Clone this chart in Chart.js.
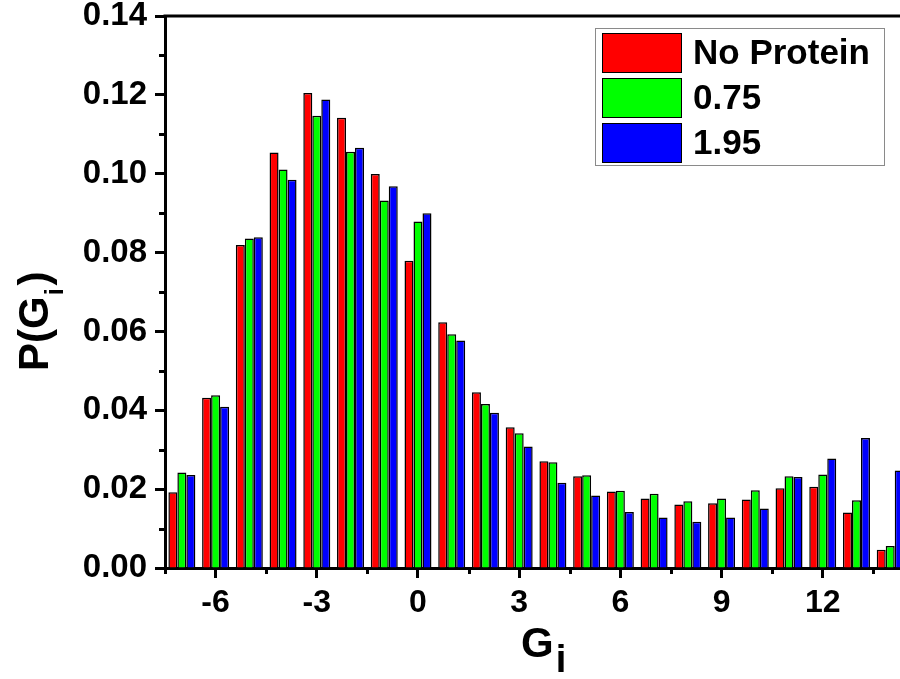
<!DOCTYPE html>
<html>
<head>
<meta charset="utf-8">
<script src="https://cdn.jsdelivr.net/npm/chart.js@4.4.1/dist/chart.umd.min.js"></script>
<style>
  html, body { margin: 0; padding: 0; background: #fff; }
  #wrap { width: 900px; height: 679px; }
</style>
</head>
<body>
<div id="wrap"><canvas id="c" width="900" height="679"></canvas></div>
<script>
// ---- data ----
const categories = [-7, -6, -5, -4, -3, -2, -1, 0, 1, 2, 3, 4, 5, 6, 7, 8, 9, 10, 11, 12, 13, 14];
const seriesNames = ['No Protein', '0.75', '1.95'];
const noProtein = [0.0192, 0.0432, 0.0819, 0.1054, 0.1205, 0.1142, 0.0999, 0.0779, 0.0623, 0.0446, 0.0357, 0.0271, 0.0233, 0.0194, 0.0176, 0.0161, 0.0164, 0.0174, 0.0202, 0.0206, 0.0141, 0.0046];
const conc075   = [0.0242, 0.0438, 0.0836, 0.1011, 0.1147, 0.1056, 0.0932, 0.0879, 0.0593, 0.0416, 0.0342, 0.0268, 0.0235, 0.0196, 0.0188, 0.0169, 0.0176, 0.0197, 0.0233, 0.0237, 0.0172, 0.0056];
const conc195   = [0.0236, 0.0409, 0.0839, 0.0985, 0.1188, 0.1066, 0.0968, 0.0900, 0.0577, 0.0394, 0.0308, 0.0216, 0.0184, 0.0142, 0.0128, 0.0117, 0.0128, 0.0151, 0.0231, 0.0278, 0.0330, 0.0247];
const xMajorTicks = [-6, -3, 0, 3, 6, 9, 12];
const xMinorTicks = [-7.5, -4.5, -1.5, 1.5, 4.5, 7.5, 10.5, 13.5];
const yMajorTicks = [0, 0.02, 0.04, 0.06, 0.08, 0.10, 0.12, 0.14];
const yMinorTicks = [0.01, 0.03, 0.05, 0.07, 0.09, 0.11, 0.13];
const xTitle = ['G', 'i'];
const yTitle = ['P(G', 'i', ')'];

const colors = ['#ff0000', '#00ff00', '#0000ff'];
const FONT = "'Liberation Sans', Arial, sans-serif";

function toPoints(vals) { return categories.map((c, i) => ({ x: c, y: vals[i] })); }
const seriesValues = [noProtein, conc075, conc195];

const isIn = (arr, v) => arr.some(t => Math.abs(t - v) < 1e-9);

const decor = {
  id: 'decor',
  afterDraw(chart) {
    const ctx = chart.ctx;
    const ca = chart.chartArea;
    const xs = chart.scales.x, ys = chart.scales.y;
    ctx.save();
    // top frame line
    ctx.strokeStyle = '#000';
    ctx.lineWidth = 3;
    ctx.beginPath();
    ctx.moveTo(ca.left - 1.5, ca.top);
    ctx.lineTo(ca.right, ca.top);
    ctx.stroke();
    // minor ticks
    ctx.lineWidth = 3;
    xMinorTicks.forEach(v => {
      const px = Math.round(xs.getPixelForValue(v)) + 0.5;
      ctx.beginPath(); ctx.moveTo(px, ca.bottom); ctx.lineTo(px, ca.bottom + 6); ctx.stroke();
    });
    yMinorTicks.forEach(v => {
      const py = Math.round(ys.getPixelForValue(v)) + 0.5;
      ctx.beginPath(); ctx.moveTo(ca.left, py); ctx.lineTo(ca.left - 6, py); ctx.stroke();
    });
    // x title
    ctx.fillStyle = '#000';
    ctx.textBaseline = 'alphabetic';
    ctx.textAlign = 'left';
    ctx.font = 'bold 42px ' + FONT;
    ctx.fillText(xTitle[0], 521, 657);
    const gw = ctx.measureText(xTitle[0]).width;
    ctx.font = 'bold 38px ' + FONT;
    ctx.fillText(xTitle[1], 521 + gw + 2, 672);
    // y title
    ctx.save();
    ctx.translate(48, 371);
    ctx.rotate(-Math.PI / 2);
    ctx.font = 'bold 42px ' + FONT;
    ctx.fillText(yTitle[0], 0, 0);
    let w = ctx.measureText(yTitle[0]).width;
    ctx.font = 'bold 25px ' + FONT;
    ctx.fillText(yTitle[1], w + 1, 15);
    w += ctx.measureText(yTitle[1]).width + 4;
    ctx.font = 'bold 42px ' + FONT;
    ctx.fillText(yTitle[2], w, 0);
    ctx.restore();
    // legend
    ctx.lineWidth = 1;
    ctx.strokeStyle = '#8a8a8a';
    ctx.fillStyle = '#fff';
    ctx.fillRect(595.5, 28.5, 289, 137);
    ctx.strokeRect(595.5, 28.5, 289, 137);
    const rowsY = [33, 78, 123];
    const baseY = [64, 109, 154];
    chart.data.datasets.forEach((ds, i) => {
      ctx.fillStyle = ds.backgroundColor;
      ctx.fillRect(602.5, rowsY[i] + 0.5, 79, 39);
      ctx.strokeStyle = '#000';
      ctx.lineWidth = 1;
      ctx.strokeRect(602.5, rowsY[i] + 0.5, 79, 39);
      ctx.fillStyle = '#000';
      ctx.font = 'bold 35px ' + FONT;
      ctx.fillText(ds.label, 693, baseY[i]);
    });
    ctx.restore();
  }
};

function zeroPad(scale) {
  scale.paddingTop = 0; scale.paddingBottom = 0;
  scale.paddingLeft = 0; scale.paddingRight = 0;
}

new Chart(document.getElementById('c'), {
  type: 'bar',
  data: {
    datasets: seriesNames.map((n, i) => ({
      label: n,
      data: toPoints(seriesValues[i]),
      backgroundColor: colors[i],
      borderColor: '#000',
      borderWidth: 1.5,
      borderSkipped: 'start',
      categoryPercentage: 0.8,
      barPercentage: 1.0
    }))
  },
  options: {
    responsive: false,
    animation: false,
    layout: { padding: { top: 16, left: 0, right: 0, bottom: 0 } },
    plugins: { legend: { display: false }, tooltip: { enabled: false } },
    scales: {
      x: {
        type: 'linear',
        offset: false,
        min: -7.5,
        max: 14.29,
        z: 1,
        afterBuildTicks(scale) {
          scale.ticks = xMajorTicks.concat(xMinorTicks).sort((a, b) => a - b).map(v => ({ value: v }));
        },
        afterFit(scale) { scale.height = 111; zeroPad(scale); },
        ticks: {
          autoSkip: false,
          maxRotation: 0,
          padding: 6,
          color: '#000',
          font: { family: FONT, size: 32, weight: 'bold' },
          callback: v => isIn(xMajorTicks, v) ? String(v) : ''
        },
        grid: {
          display: true,
          offset: false,
          drawOnChartArea: false,
          drawTicks: true,
          tickLength: 10,
          tickWidth: 3,
          tickColor: c => (c.tick && isIn(xMajorTicks, c.tick.value)) ? '#000' : 'rgba(0,0,0,0)'
        },
        border: { display: true, width: 3, color: '#000' }
      },
      y: {
        type: 'linear',
        min: 0,
        max: 0.14,
        z: 1,
        afterBuildTicks(scale) {
          scale.ticks = yMajorTicks.map(v => ({ value: v }));
        },
        afterFit(scale) { scale.width = 165; zeroPad(scale); },
        ticks: {
          autoSkip: false,
          padding: 8,
          color: '#000',
          font: { family: FONT, size: 33, weight: 'bold' },
          callback: v => v.toFixed(2)
        },
        grid: {
          display: true,
          drawOnChartArea: false,
          drawTicks: true,
          tickLength: 10,
          tickWidth: 3,
          tickColor: '#000'
        },
        border: { display: true, width: 3, color: '#000' }
      }
    }
  },
  plugins: [decor]
});
</script>
</body>
</html>
